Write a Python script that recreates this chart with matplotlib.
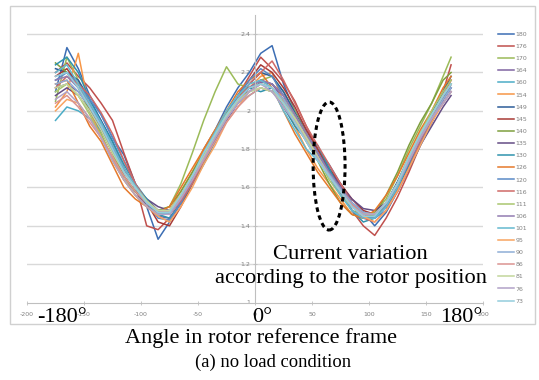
import matplotlib
matplotlib.use('Agg')
import matplotlib.pyplot as plt
from matplotlib.patches import Ellipse, Rectangle
from matplotlib.ticker import FuncFormatter

plt.rcParams['axes.unicode_minus'] = False

# angle positions (deg) where the traces were read
angles = [-175, -165, -155, -145, -135, -125, -115, -105, -95, -85, -75, -65,
          -55, -45, -35, -25, -15, -5, 5, 15, 25, 35, 45, 55,
          65, 75, 85, 95, 105, 115, 125, 135, 145, 155, 165, 172]

labels = ['180', '176', '170', '164', '160', '154', '149', '145', '140', '135', '130', '126',
          '120', '116', '111', '106', '101', '95', '90', '86', '81', '76', '73']

s180 = [2.10, 2.33, 2.22, 2.08, 1.98, 1.86, 1.77, 1.62, 1.50, 1.33, 1.42, 1.52, 1.66, 1.80, 1.90, 2.02, 2.12, 2.20, 2.30, 2.34, 2.14, 2.00, 1.90, 1.80, 1.72, 1.62, 1.52, 1.47, 1.40, 1.47, 1.58, 1.72, 1.84, 1.95, 2.06, 2.12]
s176 = [2.20, 2.25, 2.18, 2.12, 2.04, 1.95, 1.78, 1.62, 1.40, 1.38, 1.44, 1.52, 1.62, 1.74, 1.86, 1.97, 2.08, 2.18, 2.28, 2.22, 2.15, 2.05, 1.92, 1.80, 1.70, 1.60, 1.48, 1.40, 1.35, 1.44, 1.55, 1.68, 1.82, 1.95, 2.10, 2.24]
s170 = [2.05, 2.28, 2.16, 2.00, 1.88, 1.75, 1.64, 1.58, 1.52, 1.48, 1.50, 1.62, 1.78, 1.95, 2.10, 2.23, 2.14, 2.12, 2.16, 2.18, 2.10, 2.00, 1.88, 1.78, 1.66, 1.56, 1.48, 1.46, 1.47, 1.54, 1.66, 1.80, 1.92, 2.04, 2.18, 2.28]
s164 = [2.12, 2.14, 2.10, 2.02, 1.90, 1.78, 1.66, 1.58, 1.50, 1.45, 1.44, 1.52, 1.62, 1.74, 1.84, 1.96, 2.05, 2.10, 2.15, 2.14, 2.06, 1.96, 1.85, 1.76, 1.66, 1.57, 1.50, 1.45, 1.44, 1.50, 1.60, 1.72, 1.84, 1.95, 2.06, 2.14]
s160 = [1.95, 2.02, 2.00, 1.96, 1.90, 1.80, 1.70, 1.60, 1.52, 1.46, 1.47, 1.56, 1.66, 1.78, 1.88, 1.98, 2.04, 2.08, 2.12, 2.10, 2.04, 1.95, 1.86, 1.76, 1.68, 1.60, 1.52, 1.46, 1.45, 1.50, 1.60, 1.73, 1.85, 1.96, 2.04, 2.10]
s154 = [2.02, 2.10, 2.30, 2.00, 1.86, 1.76, 1.64, 1.56, 1.50, 1.46, 1.48, 1.58, 1.68, 1.80, 1.90, 1.98, 2.08, 2.12, 2.18, 2.20, 2.04, 1.92, 1.80, 1.70, 1.62, 1.54, 1.46, 1.44, 1.46, 1.52, 1.62, 1.74, 1.88, 1.98, 2.10, 2.16]
s149 = [2.22, 2.20, 2.16, 2.06, 1.95, 1.84, 1.70, 1.60, 1.54, 1.48, 1.46, 1.54, 1.64, 1.75, 1.86, 1.97, 2.06, 2.14, 2.20, 2.18, 2.10, 1.99, 1.88, 1.78, 1.68, 1.60, 1.52, 1.47, 1.46, 1.52, 1.63, 1.76, 1.88, 1.99, 2.10, 2.18]
s145 = [2.18, 2.22, 2.14, 2.04, 1.92, 1.82, 1.70, 1.60, 1.52, 1.42, 1.40, 1.50, 1.62, 1.74, 1.86, 1.97, 2.08, 2.16, 2.24, 2.20, 2.12, 2.02, 1.90, 1.80, 1.70, 1.62, 1.54, 1.48, 1.46, 1.50, 1.58, 1.70, 1.82, 1.94, 2.06, 2.14]
s140 = [2.25, 2.20, 2.12, 2.00, 1.90, 1.78, 1.66, 1.58, 1.52, 1.48, 1.50, 1.58, 1.68, 1.78, 1.88, 1.99, 2.08, 2.12, 2.14, 2.12, 2.04, 1.94, 1.84, 1.74, 1.62, 1.52, 1.46, 1.44, 1.46, 1.56, 1.68, 1.82, 1.94, 2.04, 2.16, 2.20]
s135 = [2.08, 2.12, 2.08, 2.00, 1.90, 1.80, 1.68, 1.60, 1.54, 1.50, 1.48, 1.54, 1.64, 1.74, 1.84, 1.95, 2.04, 2.12, 2.16, 2.14, 2.08, 1.98, 1.88, 1.78, 1.69, 1.61, 1.54, 1.49, 1.48, 1.52, 1.60, 1.70, 1.82, 1.92, 2.02, 2.08]
s130 = [2.24, 2.28, 2.20, 2.06, 1.94, 1.84, 1.72, 1.62, 1.54, 1.46, 1.44, 1.52, 1.62, 1.72, 1.84, 1.96, 2.06, 2.12, 2.10, 2.12, 2.02, 1.92, 1.85, 1.82, 1.70, 1.58, 1.48, 1.42, 1.44, 1.50, 1.60, 1.72, 1.84, 1.96, 2.06, 2.12]
s126 = [2.14, 2.16, 2.04, 1.92, 1.84, 1.72, 1.60, 1.54, 1.50, 1.47, 1.50, 1.60, 1.70, 1.80, 1.90, 2.00, 2.10, 2.16, 2.20, 2.12, 2.00, 1.88, 1.78, 1.68, 1.60, 1.52, 1.46, 1.44, 1.48, 1.56, 1.66, 1.78, 1.90, 2.00, 2.12, 2.18]
s120 = [2.16, 2.20, 2.14, 2.06, 1.98, 1.86, 1.74, 1.62, 1.52, 1.44, 1.43, 1.52, 1.63, 1.75, 1.86, 1.98, 2.08, 2.16, 2.22, 2.18, 2.08, 1.98, 1.88, 1.78, 1.68, 1.58, 1.48, 1.44, 1.44, 1.48, 1.58, 1.70, 1.82, 1.94, 2.06, 2.14]
s116 = [2.12, 2.18, 2.14, 2.08, 1.99, 1.88, 1.74, 1.62, 1.53, 1.48, 1.46, 1.53, 1.62, 1.74, 1.86, 1.96, 2.06, 2.14, 2.20, 2.26, 2.16, 2.04, 1.92, 1.82, 1.72, 1.62, 1.52, 1.44, 1.42, 1.48, 1.58, 1.70, 1.84, 1.96, 2.08, 2.16]
s111 = [2.10, 2.14, 2.08, 1.98, 1.86, 1.74, 1.64, 1.56, 1.50, 1.46, 1.48, 1.56, 1.66, 1.77, 1.88, 1.98, 2.06, 2.10, 2.12, 2.10, 2.06, 1.98, 1.88, 1.76, 1.64, 1.56, 1.50, 1.46, 1.46, 1.52, 1.62, 1.76, 1.88, 2.00, 2.10, 2.16]
s106 = [2.16, 2.18, 2.12, 2.04, 1.92, 1.82, 1.70, 1.60, 1.52, 1.47, 1.46, 1.54, 1.64, 1.76, 1.86, 1.96, 2.06, 2.12, 2.16, 2.14, 2.08, 1.98, 1.88, 1.78, 1.68, 1.60, 1.52, 1.47, 1.46, 1.51, 1.61, 1.73, 1.85, 1.96, 2.06, 2.12]
s101 = [2.20, 2.24, 2.14, 2.04, 1.94, 1.82, 1.70, 1.61, 1.53, 1.47, 1.46, 1.55, 1.66, 1.78, 1.89, 2.00, 2.08, 2.14, 2.16, 2.12, 2.00, 1.90, 1.80, 1.74, 1.66, 1.56, 1.48, 1.44, 1.44, 1.50, 1.60, 1.74, 1.86, 1.98, 2.08, 2.14]
s95 = [2.00, 2.06, 2.04, 1.96, 1.86, 1.74, 1.64, 1.56, 1.50, 1.45, 1.42, 1.50, 1.60, 1.72, 1.82, 1.94, 2.02, 2.10, 2.14, 2.12, 2.04, 1.96, 1.86, 1.76, 1.66, 1.58, 1.50, 1.45, 1.42, 1.48, 1.58, 1.70, 1.82, 1.94, 2.04, 2.10]
s90 = [2.14, 2.16, 2.10, 2.02, 1.92, 1.80, 1.68, 1.60, 1.52, 1.48, 1.48, 1.56, 1.66, 1.76, 1.86, 1.96, 2.04, 2.10, 2.14, 2.12, 2.06, 1.96, 1.86, 1.76, 1.67, 1.59, 1.52, 1.47, 1.46, 1.52, 1.62, 1.74, 1.86, 1.96, 2.06, 2.12]
s86 = [2.04, 2.08, 2.02, 1.94, 1.86, 1.76, 1.66, 1.58, 1.52, 1.48, 1.47, 1.55, 1.64, 1.74, 1.84, 1.94, 2.02, 2.08, 2.12, 2.10, 2.04, 1.95, 1.85, 1.76, 1.66, 1.58, 1.51, 1.46, 1.46, 1.52, 1.62, 1.74, 1.86, 1.96, 2.04, 2.10]
s81 = [2.12, 2.14, 2.08, 2.00, 1.90, 1.78, 1.68, 1.60, 1.53, 1.48, 1.48, 1.56, 1.66, 1.76, 1.87, 1.97, 2.05, 2.10, 2.12, 2.10, 2.04, 1.96, 1.86, 1.76, 1.66, 1.58, 1.50, 1.46, 1.46, 1.52, 1.62, 1.76, 1.88, 1.98, 2.08, 2.14]
s76 = [2.06, 2.10, 2.04, 1.96, 1.86, 1.74, 1.64, 1.56, 1.50, 1.46, 1.46, 1.54, 1.64, 1.75, 1.86, 1.96, 2.04, 2.10, 2.14, 2.10, 2.02, 1.94, 1.84, 1.75, 1.66, 1.58, 1.50, 1.46, 1.46, 1.52, 1.62, 1.74, 1.86, 1.96, 2.04, 2.10]
s73 = [2.18, 2.20, 2.12, 2.02, 1.92, 1.80, 1.68, 1.60, 1.52, 1.47, 1.47, 1.56, 1.66, 1.78, 1.88, 1.98, 2.06, 2.12, 2.14, 2.12, 2.04, 1.94, 1.84, 1.74, 1.66, 1.58, 1.50, 1.45, 1.45, 1.52, 1.62, 1.76, 1.88, 1.98, 2.08, 2.14]

series = [s180, s176, s170, s164, s160, s154, s149, s145, s140, s135, s130, s126,
          s120, s116, s111, s106, s101, s95, s90, s86, s81, s76, s73]

colors = ['#3C6EB4', '#C0504D', '#9BBB59', '#8064A2', '#4BACC6', '#F79646',
          '#2C5D98', '#A83A36', '#7F9F3E', '#654D85', '#2F93AD', '#E5792B',
          '#5A8AC6', '#CF6A67', '#A9C66F', '#927CB1', '#65B9D0', '#F8A461',
          '#8EADD6', '#DB9391', '#C2D69B', '#B2A2C7', '#93CDDD']

W, H = 539, 380
fig = plt.figure(figsize=(W / 100, H / 100), dpi=100)

# outer chart frame
fig.patches.append(Rectangle((10 / W, 1 - 324 / H), 525 / W, 318 / H, transform=fig.transFigure,
                             fill=False, edgecolor='#D0D0D0', lw=1))

ax = fig.add_axes([27 / W, 1 - 302.5 / H, 456 / W, 287.5 / H])
ax.set_xlim(-200, 200)
ax.set_ylim(1, 2.5)

for yv in [1.2, 1.4, 1.6, 1.8, 2.0, 2.2, 2.4]:
    ax.axhline(yv, color='#D9D9D9', lw=1, zorder=0)

for s, c, lab in zip(series, colors, labels):
    ax.plot(angles, s, color=c, lw=1.1, label=lab)

for side in ['top', 'right']:
    ax.spines[side].set_visible(False)
ax.spines['left'].set_position(('data', 0))
ax.spines['left'].set_color('#BFBFBF')
ax.spines['bottom'].set_color('#BFBFBF')
ax.set_xticks([-200, -150, -100, -50, 0, 50, 100, 150, 200])
ax.set_yticks([1, 1.2, 1.4, 1.6, 1.8, 2.0, 2.2, 2.4])
ax.yaxis.set_major_formatter(FuncFormatter(lambda v, p: '%g' % round(v, 1)))
ax.tick_params(axis='both', labelsize=4.5, labelcolor='#808080', color='#BFBFBF',
               direction='inout', length=3, width=0.6, pad=2)
ax.tick_params(axis='x', pad=5)

ax.legend(loc='upper left', bbox_to_anchor=(492 / W, 1 - 26 / H), bbox_transform=fig.transFigure,
          frameon=False, fontsize=4.5, handlelength=2.6, handletextpad=0.3,
          labelspacing=1.08, labelcolor='#808080')

# dashed marker around the steep falling region
ax.add_patch(Ellipse((65, 1.712), 28, 0.668, fill=False, edgecolor='black', lw=2.2,
                     linestyle=(0, (1.5, 1.2)), clip_on=False, zorder=10))

serif = 'Liberation Serif'
fig.text(62 / W, 1 - 317 / H, '-180°', family=serif, fontsize=16, ha='center', va='center')
fig.text(262 / W, 1 - 317 / H, '0°', family=serif, fontsize=16, ha='center', va='center')
fig.text(461 / W, 1 - 317 / H, '180°', family=serif, fontsize=16, ha='center', va='center')
fig.text(261 / W, 1 - 343 / H, 'Angle in rotor reference frame', family=serif, fontsize=16,
         ha='center', va='baseline')
fig.text(273 / W, 1 - 367 / H, '(a) no load condition', family=serif, fontsize=13.4,
         ha='center', va='baseline')
fig.text(350 / W, 1 - 259 / H, 'Current variation', family=serif, fontsize=16.2,
         ha='center', va='baseline')
fig.text(351 / W, 1 - 283 / H, 'according to the rotor position', family=serif, fontsize=16.1,
         ha='center', va='baseline')

plt.savefig('out.png', dpi=100)
